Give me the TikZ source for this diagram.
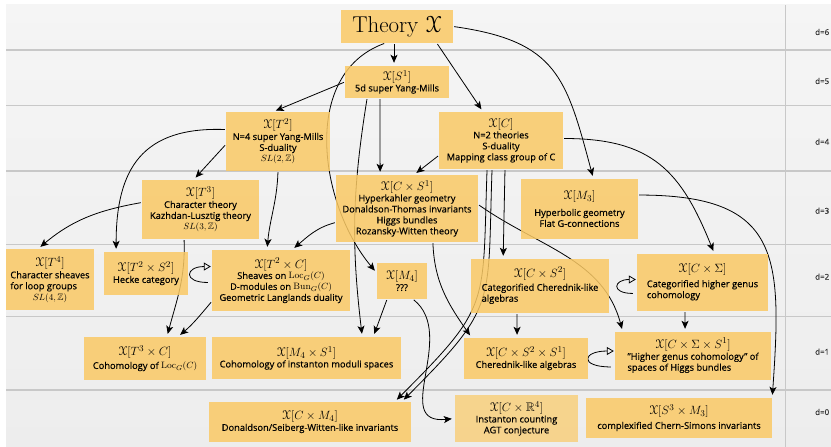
\documentclass[tikz,border=0pt]{standalone}
\usepackage{amsmath,amssymb}
\usepackage[mathcal]{eucal}
\usepackage{fontspec}
\setsansfont{Open Sans}[FakeBold=0.3]
\usetikzlibrary{arrows.meta}

\definecolor{boxfill}{RGB}{250,201,101}
\definecolor{rowrule}{RGB}{200,200,200}

\pgfdeclarelayer{back}
\pgfdeclarelayer{wires}
\pgfsetlayers{back,wires,main}

\newcommand{\xth}[1]{{\fontsize{12.5}{14}\selectfont$\mathcal{X}[#1]$}}
\newcommand{\lcol}[1]{\begin{tabular}{@{}l@{}}#1\end{tabular}}

\tikzset{
  box/.style={fill=boxfill, fill opacity=0.85, text opacity=1, inner sep=2bp, align=center,
    text=black, font=\sffamily\fontsize{9.3}{11}\selectfont},
  arr/.style={-{Stealth[length=8bp,width=7bp,inset=2bp]}, line width=0.8bp, shorten >=3bp, shorten <=1bp},
  selfloop/.style={-{Triangle[open,length=7bp,width=8bp]}, line width=0.8bp, looseness=4},
  dlabel/.style={anchor=west, inner sep=0pt, text=black!80, font=\sffamily\fontsize{8}{9}\selectfont}
}

\begin{document}
\begin{tikzpicture}[x=1bp,y=1bp]
  \useasboundingbox (0,0) rectangle (831,447);

  \node[box, font=\rmfamily\fontsize{23}{26}\selectfont, minimum width=112bp, minimum height=33bp] (T) at (397,420.5) {Theory $\mathcal{X}$};
  \node[box, minimum width=104bp, minimum height=32bp] (S1) at (397,365) {\xth{S^1}\\ 5d super Yang-Mills};
  \node[box, minimum width=104bp, minimum height=59bp] (T2) at (278,305.5) {\xth{T^2}\\ N=4 super Yang-Mills\\ S-duality\\ $SL(2,\mathbb{Z})$};
  \node[box, minimum width=124bp, minimum height=57bp] (C) at (501,306.5) {\xth{C}\\ N=2 theories\\ S-duality\\ Mapping class group of C};
  \node[box, minimum width=117bp, minimum height=59bp] (T3) at (200.5,237.5) {\xth{T^3}\\ Character theory\\ Kazhdan-Lusztig theory\\ $SL(3,\mathbb{Z})$};
  \node[box, minimum width=142bp, minimum height=67bp] (CS1) at (407,238.5) {\xth{C\times S^1}\\ Hyperkahler geometry\\ Donaldson-Thomas invariants\\ Higgs bundles\\ Rozansky-Witten theory};
  \node[box, minimum width=117bp, minimum height=60bp] (M3) at (579.5,238) {\xth{M_3}\\[5bp] Hyperbolic geometry\\ Flat G-connections};
  \node[box, minimum width=88bp, minimum height=61bp] (T4) at (50,167.5) {\xth{T^4}\\ \lcol{Character sheaves\\ for loop groups}\\ $SL(4,\mathbb{Z})$};
  \node[box, minimum width=84bp, minimum height=43bp] (T2S2) at (146,173.5) {\xth{T^2\times S^2}\\ Hecke category};
  \node[box, minimum width=138bp, minimum height=61bp] (T2C) at (281,166.5) {\xth{T^2\times C}\\ Sheaves on $\mathrm{Loc}_G(C)$\\ D-modules on $\mathrm{Bun}_G(C)$\\ Geometric Langlands duality};
  \node[box, minimum width=50bp, minimum height=36bp] (M4) at (402,166) {\xth{M_4}\\ ???};
  \node[box, minimum width=138bp, minimum height=54bp] (CS2) at (540,161) {\xth{C\times S^2}\\[2bp] \lcol{Categorified Cherednik-like\\ algebras}};
  \node[box, minimum width=131bp, minimum height=57bp] (CSig) at (702.5,164.5) {\xth{C\times\Sigma}\\[3bp] \lcol{Categorified higher genus\\ cohomology}};
  \node[box, minimum width=122bp, minimum height=43bp] (T3C) at (145,88.5) {\xth{T^3\times C}\\[2bp] Cohomology of $\mathrm{Loc}_G(C)$};
  \node[box, minimum width=189bp, minimum height=42bp] (M4S1) at (306.5,89) {\xth{M_4\times S^1}\\ Cohomology of instanton moduli spaces};
  \node[box, minimum width=124bp, minimum height=41bp] (CS2S1) at (526,88.5) {\xth{C\times S^2\times S^1}\\ Cherednik-like algebras};
  \node[box, minimum width=156bp, minimum height=48bp] (CSigS1) at (693,91) {\xth{C\times\Sigma\times S^1}\\ \lcol{"Higher genus cohomology" of\\ spaces of Higgs bundles}};
  \node[box, minimum width=202bp, minimum height=40bp] (CM4) at (310,25) {\xth{C\times M_4}\\ Donaldson/Seiberg-Witten-like invariants};
  \node[box, fill opacity=0.7, minimum width=123bp, minimum height=47bp] (CR4) at (516.5,28.5) {\xth{C\times\mathbb{R}^4}\\ Instanton counting\\ AGT conjecture};
  \node[box, minimum width=186bp, minimum height=40bp] (S3M3) at (679,29) {\xth{S^3\times M_3}\\[3bp] complexified Chern-Simons invariants};

  \foreach \yy/\dd in {415/6,366/5,305.3/4,236.3/3,170.3/2,95.3/1,35/0}
    \node[dlabel] (d\dd) at (815,\yy) {d=\dd};

  \begin{pgfonlayer}{back}
    \shade[top color=black!4, bottom color=black!7] (6,0) rectangle (831,442);
    \foreach \yy in {397,341.3,276,202.7,130.3,57}
      \draw[rowrule, line width=1.2bp] (6,\yy) -- (831,\yy);
    \draw[rowrule, line width=1.2bp] (785.7,0) -- (785.7,442);
  \end{pgfonlayer}

  \begin{pgfonlayer}{wires}
    \draw[arr] ([xshift=-3]T.south) -- ([xshift=-3]S1.north);
    \draw[arr] ([xshift=40]T.south) -- ([xshift=-18]C.north);
    \draw[arr] (T.east) to[out=-8,in=105,looseness=1.3] ([xshift=14]M3.north);
    \draw[arr] ([xshift=-12]T.south) to[out=200,in=130] ([yshift=8]M4.west);
    \draw[arr] (S1.west) -- ([xshift=-5]T2.north);
    \draw[arr] ([xshift=-17]S1.south) -- ([xshift=-27]CS1.north);
    \draw[arr] ([xshift=-30]S1.south) to[bend right=8] ([xshift=56]M4S1.north);
    \draw[arr] ([yshift=-3]T2.west) -- ([xshift=-7]T3.north);
    \draw[arr] ([yshift=12]T2.west) to[out=178,in=90,looseness=1.3] ([xshift=-30]T2S2.north);
    \draw[arr] (T2.south) to[out=-92,in=85] ([xshift=-14]T2C.north);
    \draw[arr] ([yshift=-15]C.west) -- ([xshift=7]CS1.north);
    \draw[arr] ([xshift=4]C.south) -- ([xshift=-37]CS2.north);
    \draw[arr] ([yshift=2]C.east) to[out=0,in=112,looseness=1.2] ([xshift=12]CSig.north);
    \draw[arr] ([xshift=-14]C.south) to[out=-92,in=45,looseness=1.4] ([xshift=85]CM4.north);
    \draw[arr] ([xshift=-9]C.south) to[out=-92,in=45,looseness=1.4] ([xshift=92]CM4.north);
    \draw[arr] ([yshift=-14]CS1.west) to[out=195,in=40] ([xshift=11]T2C.north);
    \draw[arr] ([yshift=4]CS1.east) to[out=-35,in=105] ([xshift=8]CSigS1.north west);
    \draw[arr] ([xshift=26]CS1.south) to[out=-88,in=125] ([xshift=8]CS2S1.north west);
    \draw[arr] ([xshift=-23]CS2.south) -- ([xshift=-9]CS2S1.north);
    \draw[arr] ([xshift=-17.5]CSig.south) -- ([xshift=-8]CSigS1.north);
    \draw[arr] ([yshift=14]M3.east) to[out=0,in=86,looseness=1.5] (S3M3.north east);
    \draw[arr] ([yshift=7]T3.west) to[out=190,in=40] ([xshift=-12]T4.north);
    \draw[arr] ([xshift=-16.5]T3.south) to[out=-88,in=75] ([xshift=22]T3C.north);
    \draw[arr] ([yshift=-21]T2C.west) to[out=-130,in=40] ([xshift=33]T3C.north);
    \draw[arr] ([xshift=-15]M4.south) -- ([xshift=67]M4S1.north);
    \draw[arr] ([xshift=11]M4.south) .. controls (458,112) and (390,22) .. (CR4.west);
    \draw[selfloop] ([xshift=-4,yshift=-2]T2C.west) to[out=180,in=180] ([xshift=-1,yshift=14]T2C.west);
    \draw[selfloop] ([xshift=-4,yshift=-11]CSig.west) to[out=180,in=180] ([xshift=-1,yshift=3]CSig.west);
    \draw[selfloop] ([xshift=-4,yshift=-11]CSigS1.west) to[out=180,in=180,looseness=5] ([xshift=-1,yshift=5]CSigS1.west); % higgs loop
  \end{pgfonlayer}
\end{tikzpicture}
\end{document}
